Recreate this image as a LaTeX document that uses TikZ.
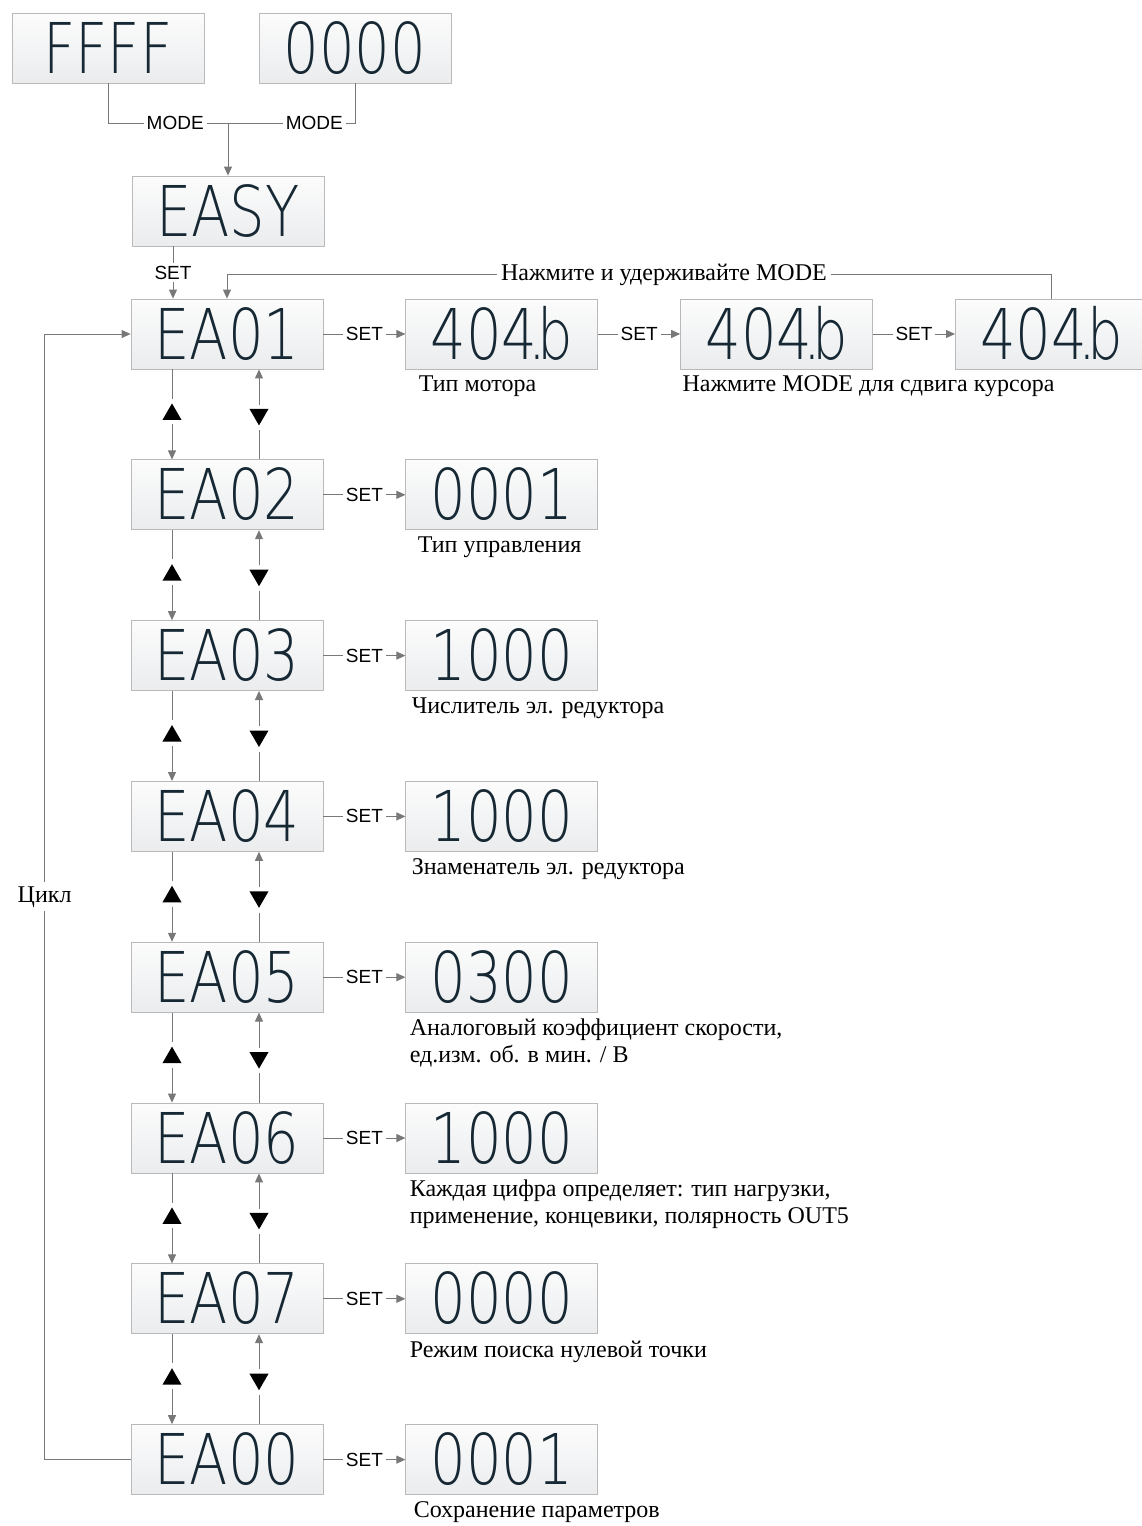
\documentclass[tikz,border=0pt]{standalone}
\usepackage{fontspec}
\setmainfont{Liberation Serif}
\newfontfamily\lcdfont[FakeStretch=0.8]{DejaVuSans-ExtraLight.ttf}
\newfontfamily\keyfont{Liberation Sans}
\usepackage{tikz}
\usetikzlibrary{arrows.meta, positioning, shapes.geometric, calc}
\definecolor{lcdtext}{RGB}{22,40,52}
\definecolor{lcdframe}{RGB}{185,185,185}
\definecolor{lcdtop}{RGB}{252,252,252}
\definecolor{lcdbottom}{RGB}{234,236,238}
\definecolor{linegray}{RGB}{120,120,120}
\tikzset{
  lcd/.style={rectangle, draw=lcdframe, top color=lcdtop, bottom color=lcdbottom,
    minimum width=96pt, minimum height=35pt, inner sep=0pt, text=lcdtext,
    text height=25pt, text depth=0pt,
    font=\lcdfont\fontsize{35}{35}\selectfont},
  valbox/.style={lcd},
  keylbl/.style={fill=white, inner sep=1.5pt, text=black,
    font=\keyfont\fontsize{9.5}{10}\selectfont},
  textlbl/.style={fill=white, inner sep=2pt, text=black,
    font=\fontsize{12}{13.5}\selectfont},
  note/.style={align=left, inner sep=0pt, anchor=north west,
    font=\fontsize{12}{13.5}\selectfont},
  upkey/.style={regular polygon, regular polygon sides=3, fill=black,
    minimum size=11pt, inner sep=0pt},
  downkey/.style={upkey, shape border rotate=180},
  link/.style={color=linegray, line width=0.5pt},
  arrow/.style={-{Triangle[length=4.5pt,width=4pt]}, color=linegray, line width=0.5pt},
}
\begin{document}
\begin{tikzpicture}[x=0.5pt, y=-0.5pt, node distance=45pt]
  \useasboundingbox (0,0) rectangle (1141,1526);
  % power-up screens
  \node[lcd] (ffff) at (108,48) {FFFF};
  \node[lcd] (zero) at (355,48) {0000};
  \node[lcd] (easy) at (228,211) {EASY};
  \coordinate (modejoin) at (228,123);
  \draw[link] (ffff.south) |- node[keylbl, pos=0.78]{MODE} (modejoin);
  \draw[link] (zero.south) |- node[keylbl, pos=0.66]{MODE} (modejoin);
  \draw[arrow] (modejoin) -- (easy.north);

  % parameter list
  \node[lcd] (ea01) at (227,334) {EA01};
  \node[lcd, below=of ea01] (ea02) {EA02};
  \node[lcd, below=of ea02] (ea03) {EA03};
  \node[lcd, below=of ea03] (ea04) {EA04};
  \node[lcd, below=of ea04] (ea05) {EA05};
  \node[lcd, below=of ea05] (ea06) {EA06};
  \node[lcd, below=of ea06] (ea07) {EA07};
  \node[lcd, below=of ea07] (ea00) {EA00};
  \draw[arrow] ([xshift=-27.5pt]easy.south) -- node[keylbl]{SET}
    ([xshift=-27.5pt]easy.south |- ea01.north);

  % values
  \node[valbox, right=41pt of ea01] (v1) {404\makebox[0pt]{.}b};
  \node[valbox, right=41pt of v1] (m2) {404\makebox[0pt]{.}b};
  \node[valbox, right=41pt of m2] (m3) {404\makebox[0pt]{.}b};
  \node[valbox, right=41pt of ea02] (v2) {0001};
  \node[valbox, right=41pt of ea03] (v3) {1000};
  \node[valbox, right=41pt of ea04] (v4) {1000};
  \node[valbox, right=41pt of ea05] (v5) {0300};
  \node[valbox, right=41pt of ea06] (v6) {1000};
  \node[valbox, right=41pt of ea07] (v7) {0000};
  \node[valbox, right=41pt of ea00] (v0) {0001};

  \draw[arrow] (ea01) -- node[keylbl]{SET} (v1);
  \draw[arrow] (v1) -- node[keylbl]{SET} (m2);
  \draw[arrow] (m2) -- node[keylbl]{SET} (m3);
  \draw[arrow] (ea02) -- node[keylbl]{SET} (v2);
  \draw[arrow] (ea03) -- node[keylbl]{SET} (v3);
  \draw[arrow] (ea04) -- node[keylbl]{SET} (v4);
  \draw[arrow] (ea05) -- node[keylbl]{SET} (v5);
  \draw[arrow] (ea06) -- node[keylbl]{SET} (v6);
  \draw[arrow] (ea07) -- node[keylbl]{SET} (v7);
  \draw[arrow] (ea00) -- node[keylbl]{SET} (v0);
  \draw[arrow] (m3.north) -- ++(0,12pt) -|
    node[textlbl, pos=0.235]{Нажмите и удерживайте MODE} (ea01.north);

  % descriptions
  \node[below=3pt of v1.south west, note, xshift=6.5pt] {Тип мотора};
  \node[below=3pt of m2.south west, note, xshift=1pt] {Нажмите MODE для сдвига курсора};
  \node[below=3pt of v2.south west, note, xshift=6pt] {Тип управления};
  \node[below=3pt of v3.south west, note, xshift=3pt] {Числитель эл. редуктора};
  \node[below=3pt of v4.south west, note, xshift=3pt] {Знаменатель эл. редуктора};
  \node[below=3pt of v5.south west, note, xshift=2pt]
    {Аналоговый коэффициент скорости,\\ед.изм. об. в мин. / В};
  \node[below=3pt of v6.south west, note, xshift=2pt]
    {Каждая цифра определяет: тип нагрузки,\\применение, концевики, полярность OUT5};
  \node[below=3pt of v7.south west, note, xshift=2pt] {Режим поиска нулевой точки};
  \node[below=3pt of v0.south west, note, xshift=4pt] {Сохранение параметров};

  % up / down keys between the screens
  \foreach \a/\b in {ea01/ea02, ea02/ea03, ea03/ea04, ea04/ea05,
                     ea05/ea06, ea06/ea07, ea07/ea00} {
    \node[upkey, xshift=-27.5pt] (\a-up) at ($(\a.south)!.5!(\b.north)$) {};
    \node[downkey, xshift=16pt] (\a-dn) at ($(\a.south)!.5!(\b.north)$) {};
    \draw[link, shorten >=2pt] ([xshift=-27.5pt]\a.south) -- (\a-up.north);
    \draw[arrow, shorten <=2pt] (\a-up.south) -- ([xshift=-27.5pt]\b.north);
    \draw[arrow, shorten <=2pt] (\a-dn.north) -- ([xshift=16pt]\a.south);
    \draw[link, shorten <=2pt] (\a-dn.south) -- ([xshift=16pt]\b.north);
  }

  % cycle back to the first parameter
  \draw[arrow] (ea00.west) -- ++(-43pt,0) |-
    node[textlbl, pos=0.25]{Цикл} (ea01.west);
\end{tikzpicture}
\end{document}
